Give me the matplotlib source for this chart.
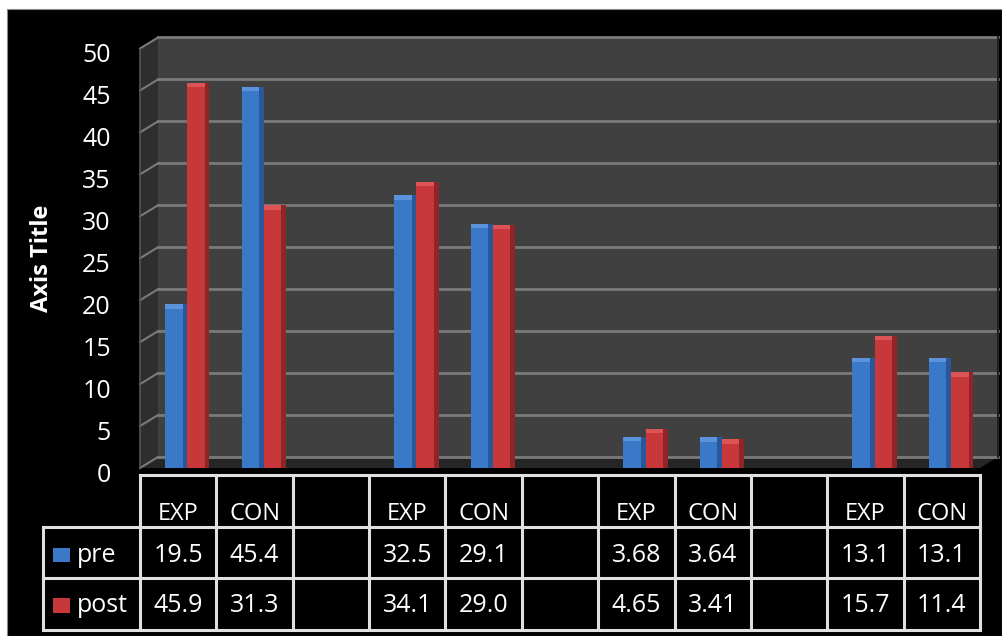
import numpy as np
import matplotlib
matplotlib.use("Agg")
import matplotlib.pyplot as plt
from matplotlib.patches import Rectangle, Polygon
from matplotlib.transforms import ScaledTranslation

# data
groups = 4
subcats = ["EXP", "CON"]
pre = [19.5, 45.4, 32.5, 29.1, 3.68, 3.64, 13.1, 13.1]
post = [45.9, 31.3, 34.1, 29.0, 4.65, 3.41, 15.7, 11.4]
series_names = ["pre", "post"]
yticks = list(range(0, 51, 5))

blue = "#3a78c8"
blue_side = "#28579a"
blue_top = "#5b93dc"
red = "#c8383a"
red_side = "#8f2527"
red_top = "#dc5456"
wall = "#404040"
side_wall = "#2e2e2e"
grid_col = "#7a7a7a"
line_col = "#e0e0e0"

plt.rcParams['font.family'] = ['Open Sans', 'DejaVu Sans']

W, H = 1002, 636
fig = plt.figure(figsize=(W / 100, H / 100), dpi=100, facecolor="white")

# black chart area
fig.patches.append(Rectangle((7 / W, 0), 1 - 7 / W, (H - 9) / H, transform=fig.transFigure,
                             facecolor="black", edgecolor="#888888", lw=0.8, zorder=-10))

ncols = groups * 3 - 1
ax = fig.add_axes([140 / W, (H - 468) / H, 840 / W, 419.5 / H])
ax.set_xlim(0, ncols)
ax.set_ylim(0, 50)
ax.patch.set_alpha(0)
for s in ax.spines.values():
    s.set_visible(False)

# depth offset of the back wall (in data units)
dx = 18 / (840 / ncols)
dy = 11 / (419.5 / 50)

ax.add_patch(Rectangle((dx, dy), ncols, 50, facecolor=wall, edgecolor="none", zorder=1, clip_on=False))
ax.add_patch(Polygon([(0, 0), (dx, dy), (dx, 50 + dy), (0, 50)], closed=True,
                     facecolor=side_wall, edgecolor="none", zorder=1, clip_on=False))
ax.add_patch(Polygon([(0, 0), (ncols, 0), (ncols + dx, dy), (dx, dy)], closed=True,
                     facecolor="#262626", edgecolor="none", zorder=1, clip_on=False))
for v in yticks:
    ax.plot([dx, ncols + dx], [v + dy, v + dy], color=grid_col, lw=2, zorder=2, clip_on=False)
    ax.plot([0, dx], [v, v + dy], color=grid_col, lw=1.5, zorder=2, clip_on=False)
ax.plot([0, 0], [0, 50], color="#555555", lw=1.2, zorder=2, clip_on=False)
ax.plot([ncols + dx, ncols + dx], [dy, 50 + dy], color="#222222", lw=1.5, zorder=2, clip_on=False)

# bars (front face, darker side, lighter top)
cols = [3 * g + s for g in range(groups) for s in range(len(subcats))]
bw = 0.29
front = 0.23
cap = 0.5
for i, c in enumerate(cols):
    xb = c + 0.33
    xr = xb + bw
    ax.bar(xb, pre[i], width=front, align="edge", color=blue, zorder=3)
    ax.bar(xb + front, pre[i], width=bw - front, align="edge", color=blue_side, zorder=3)
    ax.bar(xb, cap, bottom=pre[i] - cap, width=front, align="edge", color=blue_top, zorder=3)
    ax.bar(xr, post[i], width=front, align="edge", color=red, zorder=4)
    ax.bar(xr + front, post[i], width=bw - front, align="edge", color=red_side, zorder=4)
    ax.bar(xr, cap, bottom=post[i] - cap, width=front, align="edge", color=red_top, zorder=4)

ax.set_xticks([])
ax.set_yticks(yticks)
ax.set_yticklabels([str(v) for v in yticks], color="white", fontsize=18)
ax.tick_params(axis="y", length=0, pad=21)
shift = ScaledTranslation(0, -4 / 100, fig.dpi_scale_trans)
for lab in ax.get_yticklabels():
    lab.set_transform(lab.get_transform() + shift)
ax.set_ylabel("Axis Title", color="white", fontsize=17, fontweight="bold", labelpad=20)

# data table
tax = fig.add_axes([43 / W, (H - 630) / H, (980 - 43) / W, 155 / H])
lx = -(140 - 43) / (840 / ncols)
tax.set_xlim(lx, ncols)
tax.set_ylim(0, 3)
tax.axis("off")
lw = 2.2
tax.plot([0, ncols], [3, 3], color=line_col, lw=lw, clip_on=False)
for yy in [2, 1, 0]:
    tax.plot([lx, ncols], [yy, yy], color=line_col, lw=lw, clip_on=False)
for xx in range(ncols + 1):
    tax.plot([xx, xx], [0, 3], color=line_col, lw=lw, clip_on=False)
tax.plot([lx, lx], [0, 2], color=line_col, lw=lw, clip_on=False)

for i, c in enumerate(cols):
    tax.text(c + 0.5, 2.25, subcats[i % 2], color="white", fontsize=17, ha="center", va="center")
    tax.text(c + 0.5, 1.45, "{:#.3g}".format(pre[i]), color="white", fontsize=18, ha="center", va="center")
    tax.text(c + 0.5, 0.47, "{:#.3g}".format(post[i]), color="white", fontsize=18, ha="center", va="center")

for row, name, col in [(1.45, series_names[0], blue), (0.47, series_names[1], red)]:
    tax.add_patch(Rectangle((lx + 0.13, row - 0.14), 0.22, 0.28, facecolor=col, edgecolor="none"))
    tax.text(lx + 0.45, row, name, color="white", fontsize=18, ha="left", va="center")

fig.savefig("out.png", dpi=100, facecolor="white")
